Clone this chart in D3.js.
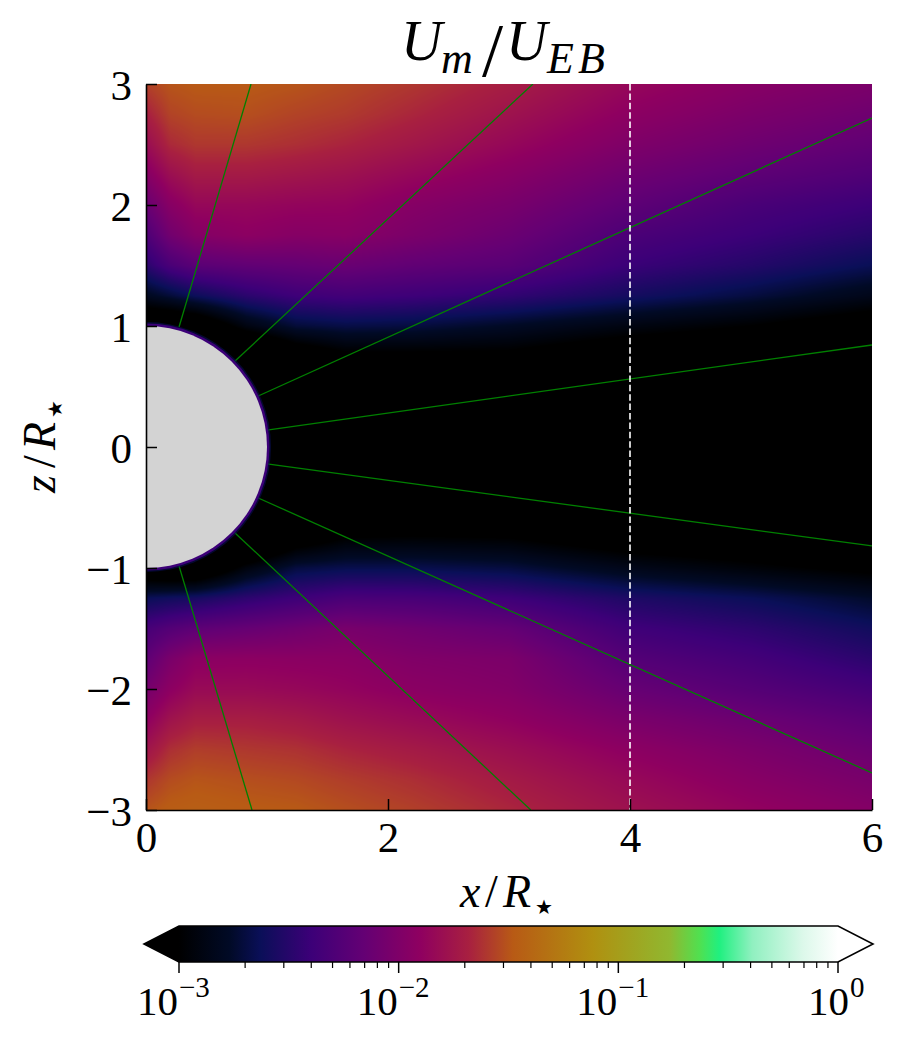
<!DOCTYPE html>
<html><head><meta charset="utf-8">
<style>html,body{margin:0;padding:0;background:#fff}svg{display:block}text{font-family:"Liberation Serif",serif;fill:#000}</style>
<script src="https://cdnjs.cloudflare.com/ajax/libs/d3/7.8.5/d3.min.js"></script>
</head><body>
<script>
// log10(Um/UEB), rows by z, columns by x
const xCols = [0.02,0.2,0.41,0.83,1.24,1.65,2.2,3,4,5,6];
const zRows = [3,2.75,2.5,2.25,2,1.75,1.5,1.25,1,0.75,0.5,0,-0.5,-0.75,-1,-1.25,-1.5,-1.75,-2,-2.25,-2.5,-2.75,-3];
const logU = [
[-1.56,-1.5,-1.48,-1.48,-1.5,-1.54,-1.6,-1.7,-1.85,-1.95,-2.02],
[-1.68,-1.56,-1.53,-1.52,-1.56,-1.59,-1.66,-1.77,-1.92,-2.02,-2.1],
[-1.8,-1.65,-1.6,-1.6,-1.63,-1.67,-1.74,-1.85,-2,-2.1,-2.18],
[-1.95,-1.8,-1.72,-1.72,-1.75,-1.78,-1.85,-1.95,-2.1,-2.2,-2.28],
[-2.12,-1.95,-1.85,-1.85,-1.87,-1.88,-1.96,-2.04,-2.2,-2.32,-2.4],
[-2.28,-2.08,-1.97,-1.92,-1.96,-1.95,-2.02,-2.12,-2.31,-2.4,-2.5],
[-2.47,-2.32,-2.22,-2.18,-2.16,-2.13,-2.18,-2.23,-2.41,-2.51,-2.64],
[-2.8,-2.72,-2.62,-2.48,-2.39,-2.36,-2.39,-2.45,-2.58,-2.7,-2.85],
[-3.3,-3.3,-3.25,-2.9,-2.72,-2.68,-2.7,-2.78,-2.9,-3,-3.15],
[-3.6,-3.6,-3.6,-3.5,-3.2,-3.05,-3.05,-3.05,-3.2,-3.25,-3.4],
[-3.7,-3.7,-3.7,-3.7,-3.5,-3.4,-3.4,-3.4,-3.5,-3.6,-3.7],
[-3.8,-3.8,-3.8,-3.8,-3.8,-3.8,-3.8,-3.8,-3.8,-3.8,-3.8],
[-3.7,-3.7,-3.7,-3.7,-3.5,-3.4,-3.35,-3.35,-3.5,-3.6,-3.7],
[-3.6,-3.6,-3.6,-3.5,-3.15,-3,-2.98,-3,-3.15,-3.2,-3.3],
[-3.25,-3.3,-3.3,-2.92,-2.7,-2.66,-2.66,-2.7,-2.85,-2.95,-3.05],
[-2.63,-2.6,-2.57,-2.47,-2.39,-2.32,-2.33,-2.39,-2.54,-2.63,-2.76],
[-2.33,-2.26,-2.2,-2.15,-2.1,-2.04,-2.09,-2.16,-2.38,-2.47,-2.6],
[-2.18,-2.03,-1.93,-1.92,-1.93,-1.94,-1.99,-2.02,-2.26,-2.35,-2.48],
[-2.05,-1.92,-1.83,-1.83,-1.85,-1.88,-1.93,-1.98,-2.15,-2.25,-2.35],
[-1.9,-1.77,-1.7,-1.7,-1.73,-1.78,-1.83,-1.9,-2.03,-2.12,-2.22],
[-1.75,-1.63,-1.58,-1.6,-1.62,-1.67,-1.72,-1.8,-1.92,-2.02,-2.12],
[-1.6,-1.53,-1.5,-1.52,-1.54,-1.58,-1.63,-1.72,-1.84,-1.95,-2.04],
[-1.5,-1.46,-1.45,-1.47,-1.48,-1.52,-1.57,-1.66,-1.78,-1.88,-1.97]
];
// colormap stops
const cmapLog = [-3,-2.77,-2.63,-2.4,-2.16,-1.9,-1.68,-1.48,-1.116,-0.765,-0.63,-0.54,-0.39,-0.16,0];
const cmapCol = ["#000000","#010a26","#0a0f58","#3c0078","#640074","#8f0060","#a82040","#b85a15","#b09010","#90b830","#50e050","#20f080","#90f0c0","#dcf8ea","#ffffff"];
// field lines [x0,z0,x1,z1]
const fieldLines = [
 [0.273,0.992,0.868,3],[0.727,0.702,3.198,3],[0.909,0.413,6,2.719],[1,0.14,6,0.843],
 [1,-0.14,6,-0.818],[0.909,-0.413,6,-2.694],[0.727,-0.702,3.18,-3],[0.273,-0.983,0.876,-3]
];
const xTicks=[0,2,4,6], zTicks=[-3,-2,-1,0,1,2,3];
const cbarMajor=[-3,-2,-1,0];
const dashX=4, starRadius=1, shellLog=-2.4, glowLog=-2.65;

const W=904,H=1045;
const x=d3.scaleLinear().domain([0,6]).range([146,872]);
const y=d3.scaleLinear().domain([-3,3]).range([810,84]);
const color=d3.scaleLinear().domain(cmapLog).range(cmapCol).interpolate(d3.interpolateRgb).clamp(true);
const svg=d3.select("body").append("svg").attr("width",W).attr("height",H);
const defs=svg.append("defs");
defs.append("clipPath").attr("id","plot").append("rect").attr("x",x(0)).attr("y",y(3)).attr("width",x(6)-x(0)).attr("height",y(-3)-y(3));

// Shaded mesh over the grid: each pixel is shaded from its four neighbouring grid values (as in pcolormesh with gouraud shading)
const colIdx=d3.scaleLinear().domain(xCols).range(d3.range(xCols.length)).clamp(true);
const rowIdx=d3.scaleLinear().domain(zRows).range(d3.range(zRows.length)).clamp(true);
const lut=d3.range(1025).map(i=>d3.rgb(color(-3+3*i/1024)));
const pw=Math.round(x(6)-x(0)),ph=Math.round(y(-3)-y(3));
const cv=document.createElement("canvas");cv.width=pw;cv.height=ph;
const ctx=cv.getContext("2d"),img=ctx.createImageData(pw,ph);
for(let j=0;j<ph;j++){
 const rf=rowIdx(y.invert(y(3)+j+.5)),r0=Math.min(Math.floor(rf),zRows.length-2),rt=rf-r0;
 for(let i=0;i<pw;i++){
  const cf=colIdx(x.invert(x(0)+i+.5)),c0=Math.min(Math.floor(cf),xCols.length-2),ct=cf-c0;
  const v=(1-rt)*((1-ct)*logU[r0][c0]+ct*logU[r0][c0+1])+rt*((1-ct)*logU[r0+1][c0]+ct*logU[r0+1][c0+1]);
  const k=Math.max(0,Math.min(1024,Math.round((v+3)/3*1024))),c=lut[k],p=(j*pw+i)*4;
  img.data[p]=c.r;img.data[p+1]=c.g;img.data[p+2]=c.b;img.data[p+3]=255;
 }
}
ctx.putImageData(img,0,0);
const plot=svg.append("g").attr("clip-path","url(#plot)");
plot.append("image").attr("x",x(0)).attr("y",y(3)).attr("width",pw).attr("height",ph).attr("href",cv.toDataURL("image/png"));
// field lines
plot.selectAll("line.f").data(fieldLines).join("line").attr("class","f")
 .attr("x1",d=>x(d[0])).attr("y1",d=>y(d[1])).attr("x2",d=>x(d[2])).attr("y2",d=>y(d[3]))
 .attr("stroke","#008000").attr("stroke-width",1.3);
// star with its thin coloured shell
const rs=d=>x(d)-x(0);
plot.append("circle").attr("cx",x(0)).attr("cy",y(0)).attr("r",rs(starRadius)+4).attr("fill",color(glowLog)).attr("opacity",.6);
plot.append("circle").attr("cx",x(0)).attr("cy",y(0)).attr("r",rs(starRadius)+2.5).attr("fill",color(shellLog));
plot.append("circle").attr("cx",x(0)).attr("cy",y(0)).attr("r",rs(starRadius)).attr("fill","#d3d3d3");
// dashed line
plot.append("line").attr("x1",x(dashX)).attr("x2",x(dashX)).attr("y1",y(3)).attr("y2",y(-3))
 .attr("stroke","#fff").attr("stroke-width",1.6).attr("stroke-dasharray","6.5,2.9");
// axes
function styleAxis(g){g.selectAll("path.domain").attr("stroke","#000").attr("stroke-width",1.6);
 g.selectAll(".tick line").attr("stroke","#000").attr("stroke-width",1.5);
 g.selectAll(".tick text").attr("font-family",'"Liberation Serif",serif').attr("font-size",43).attr("fill","#000");}
const fmt=d=>String(d).replace("-","\u2212");
const ax=svg.append("g").attr("transform",`translate(0,${y(-3)})`).call(d3.axisBottom(x).tickValues(xTicks).tickFormat(fmt).tickSizeInner(-11).tickSizeOuter(0).tickPadding(0));
styleAxis(ax); ax.selectAll(".tick text").attr("dy",null).attr("y",42);
const ay=svg.append("g").attr("transform",`translate(${x(0)},0)`).call(d3.axisLeft(y).tickValues(zTicks).tickFormat(fmt).tickSizeInner(-11).tickSizeOuter(0).tickPadding(0));
styleAxis(ay); ay.selectAll(".tick text").attr("x",-14).attr("dy",null).attr("y",15);

// math pieces placed one by one
function piece(parent,px,py,t,size,italic,family){
 return parent.append("text").attr("x",px).attr("y",py).attr("font-size",size).attr("font-style",italic?"italic":"normal").attr("font-family",family||null).text(t);
}
const star='"DejaVu Sans",sans-serif';
piece(svg,401,60,"U",57,true);
piece(svg,441,73,"m",44,true);
piece(svg,482,76,"/",76,false);
piece(svg,506,60,"U",57,true);
piece(svg,547,73,"E",44,true);
piece(svg,578,73,"B",44,true);
function unitLabel(g){
 piece(g,0,0,g.attr("data-v"),46,true);
 piece(g,25,0,"/",46,false);
 piece(g,43,0,"R",46,true);
 piece(g,75,7,"\u2605",20,false,star);
}
unitLabel(svg.append("g").attr("transform","translate(460,907)").attr("data-v","x"));
unitLabel(svg.append("g").attr("transform","translate(55,493) rotate(-90)").attr("data-v","z"));

// colourbar
const cb=d3.scaleLinear().domain([-3,0]).range([179,838]);
const cbTop=926,cbBot=962,tipL=144,tipR=873,cbMid=(cbTop+cbBot)/2;
const grad=defs.append("linearGradient").attr("id","cbar").attr("x1",0).attr("x2",1).attr("y1",0).attr("y2",0);
grad.selectAll("stop").data(cmapLog).join("stop").attr("offset",d=>(d+3)/3).attr("stop-color",d=>color(d));
svg.append("rect").attr("x",cb(-3)).attr("y",cbTop).attr("width",cb(0)-cb(-3)).attr("height",cbBot-cbTop).attr("fill","url(#cbar)");
svg.append("path").attr("d",`M${cb(-3)},${cbTop}L${tipL},${cbMid}L${cb(-3)},${cbBot}Z`).attr("fill",color(-3));
svg.append("path").attr("d",`M${cb(0)},${cbTop}L${tipR},${cbMid}L${cb(0)},${cbBot}Z`).attr("fill",color(0));
svg.append("path").attr("d",`M${cb(-3)},${cbTop}L${cb(0)},${cbTop}L${tipR},${cbMid}L${cb(0)},${cbBot}L${cb(-3)},${cbBot}L${tipL},${cbMid}Z`)
 .attr("fill","none").attr("stroke","#000").attr("stroke-width",1.6);
const minor=[];
[-3,-2,-1].forEach(d=>d3.range(2,10).forEach(m=>minor.push(d+Math.log10(m))));
svg.selectAll("line.mn").data(minor).join("line").attr("class","mn").attr("x1",d=>cb(d)).attr("x2",d=>cb(d)).attr("y1",cbBot).attr("y2",cbBot+6).attr("stroke","#000").attr("stroke-width",1.2);
svg.selectAll("line.mj").data(cbarMajor).join("line").attr("class","mj").attr("x1",d=>cb(d)).attr("x2",d=>cb(d)).attr("y1",cbBot).attr("y2",cbBot+11).attr("stroke","#000").attr("stroke-width",1.5);
cbarMajor.forEach(d=>{
 const start=cb(d)-(d===0?30:42);
 piece(svg,start,1015,"10",41,false);
 piece(svg,start+42,997,fmt(d),29,false);
});
</script>
</body></html>
